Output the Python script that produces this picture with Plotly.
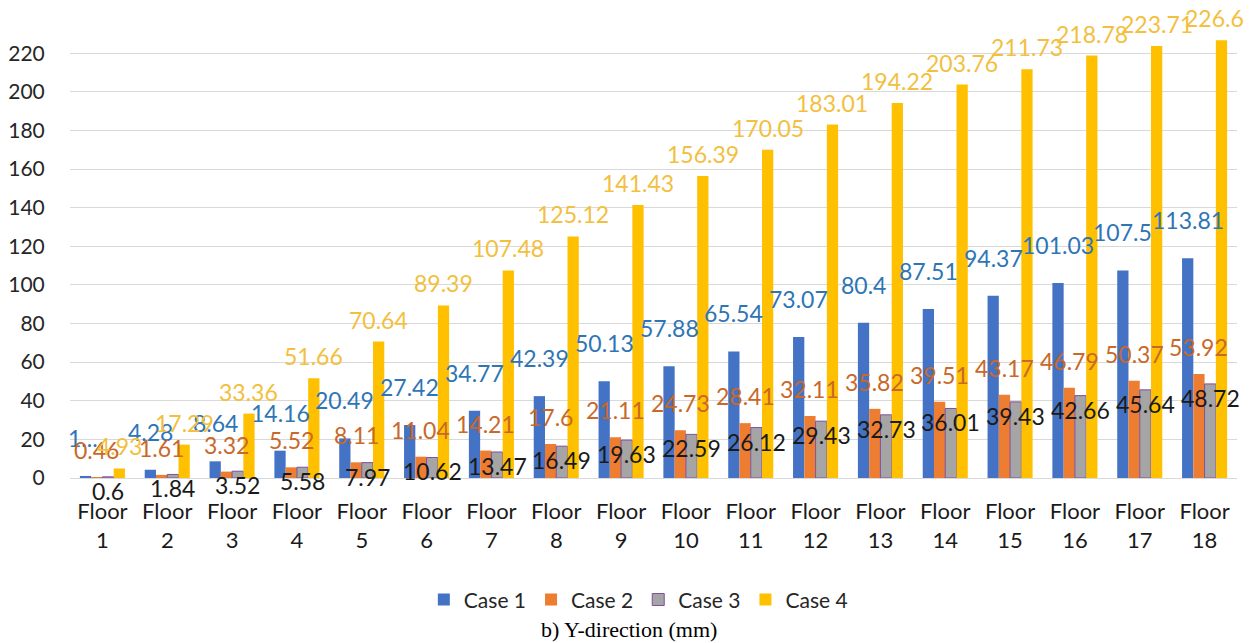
import plotly.graph_objects as go

floors = [f"Floor<br>{i}" for i in range(1, 19)]
case1 = [1.06, 4.28, 8.64, 14.16, 20.49, 27.42, 34.77, 42.39, 50.13, 57.88,
         65.54, 73.07, 80.4, 87.51, 94.37, 101.03, 107.5, 113.81]
case2 = [0.46, 1.61, 3.32, 5.52, 8.11, 11.04, 14.21, 17.6, 21.11, 24.73,
         28.41, 32.11, 35.82, 39.51, 43.17, 46.79, 50.37, 53.92]
case3 = [0.6, 1.84, 3.52, 5.58, 7.97, 10.62, 13.47, 16.49, 19.63, 22.59,
         26.12, 29.43, 32.73, 36.01, 39.43, 42.66, 45.64, 48.72]
case4 = [4.93, 17.29, 33.36, 51.66, 70.64, 89.39, 107.48, 125.12, 141.43, 156.39,
         170.05, 183.01, 194.22, 203.76, 211.73, 218.78, 223.71, 226.68]
y_ticks = list(range(0, 221, 20))

def fmt(v):
    return f"{v:g}"

labels1 = [fmt(v) for v in case1]
labels1[0] = "1...."  # truncated label as shown in the original
labels2 = [fmt(v) for v in case2]
labels3 = [fmt(v) for v in case3]
labels4 = [fmt(v) for v in case4]

series = [
    ("Case 1", case1, labels1, "#4472C4", "#2E75B6", 38),
    ("Case 2", case2, labels2, "#ED7D31", "#C9682A", 27),
    ("Case 3", case3, labels3, "#A5A5A5", "#1A1A1A", -14),
    ("Case 4", case4, labels4, "#FFC000", "#F2C03E", 22),
]

BARGAP = 0.305
FONT = "Lato"

fig = go.Figure()
annotations = []
bw = (1 - BARGAP) / 4
for k, (name, vals, labs, col, tcol, ysh) in enumerate(series):
    line = dict(color="#7F4FA0", width=1) if name == "Case 3" else dict(width=0)
    fig.add_trace(go.Bar(name=name, x=floors, y=vals, marker=dict(color=col, line=line)))
    for i, (v, t) in enumerate(zip(vals, labs)):
        annotations.append(dict(
            x=i + (k - 1.5) * bw, y=v, xref="x", yref="y", text=t,
            showarrow=False, yshift=ysh,
            font=dict(family=FONT, size=23, color=tcol),
        ))

annotations.append(dict(
    x=0.479, y=-0.338, xref="paper", yref="paper", text="b) Y-direction (mm)",
    showarrow=False, font=dict(family="Liberation Serif", size=22, color="#000000"),
    xanchor="center", yanchor="middle",
))

# the page body adds an 8px margin, so the figure is 16px smaller than the window
fig.update_layout(
    width=1244, height=635,
    margin=dict(l=62, r=15, t=22, b=165),
    paper_bgcolor="white", plot_bgcolor="white",
    barmode="group", bargap=BARGAP, bargroupgap=0,
    font=dict(family=FONT, color="#262626"),
    annotations=annotations,
    legend=dict(orientation="h", x=0.487, xanchor="center", y=-0.272, yanchor="middle",
                font=dict(family=FONT, size=21, color="#262626"), traceorder="normal"),
    xaxis=dict(range=[-0.5, len(floors) - 0.5], showgrid=False, showline=True,
               linecolor="#D9D9D9", linewidth=1,
               ticks="outside", ticklen=14, tickcolor="rgba(0,0,0,0)", automargin=False,
               tickfont=dict(family=FONT, size=22, color="#1A1A1A"), tickangle=0),
    yaxis=dict(range=[0, 232], tickvals=y_ticks, showgrid=True, gridcolor="#D9D9D9",
               zeroline=False, showline=False, automargin=False,
               ticks="outside", ticklen=20, tickcolor="rgba(0,0,0,0)",
               tickfont=dict(family=FONT, size=21, color="#262626")),
)

fig.write_html("out.html")
